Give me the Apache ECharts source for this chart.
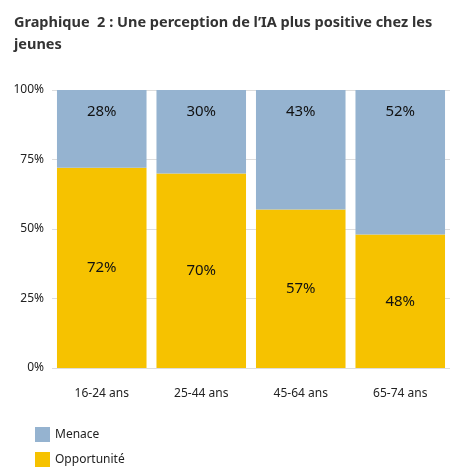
<!DOCTYPE html>
<html>
<head>
<meta charset="UTF-8">
<script src="https://cdn.jsdelivr.net/npm/echarts@6/dist/echarts.min.js"></script>
<style>body{margin:0;background:#fff}</style>
</head>
<body>
<div id="main" style="width:469px;height:476px;"></div>
<script>
var categories = ['16-24 ans', '25-44 ans', '45-64 ans', '65-74 ans'];
var opportunite = [72, 70, 57, 48];
var menace = [28, 30, 43, 52];
var yTicks = [0, 25, 50, 75, 100];

var chart = echarts.init(document.getElementById('main'));
var labelStyle = {show: true, position: 'inside', color: '#111', fontSize: 15,
  fontFamily: 'Noto Sans', formatter: function (p) { return p.value + '%'; }};
chart.setOption({
  textStyle: {fontFamily: 'Noto Sans'},
  title: {
    text: 'Graphique  2 : Une perception de l\u2019IA plus positive chez les\njeunes',
    left: 9, top: 7,
    textStyle: {fontSize: 14.5, fontWeight: 'bold', color: '#333', lineHeight: 22, fontFamily: 'Noto Sans'}
  },
  legend: {
    orient: 'vertical', left: 30, top: 422, itemGap: 10, itemWidth: 15, itemHeight: 15,
    icon: 'rect', data: ['Menace', 'Opportunit\u00e9'],
    textStyle: {fontSize: 12, color: '#222'}
  },
  grid: {left: 52, right: 19, top: 90, bottom: 108},
  xAxis: {
    type: 'category', data: categories,
    axisLine: {show: false}, axisTick: {show: false},
    axisLabel: {color: '#222', fontSize: 12, margin: 20}
  },
  yAxis: {
    type: 'value', min: 0, max: 100, interval: 25,
    axisLabel: {color: '#222', fontSize: 12, formatter: function (v) { return yTicks.indexOf(v) >= 0 ? v + '%' : ''; }},
    splitLine: {lineStyle: {color: '#ddd'}}
  },
  series: [
    {name: 'Opportunit\u00e9', type: 'bar', stack: 'a', data: opportunite, barWidth: '90%',
      itemStyle: {color: '#f6c200'}, label: labelStyle},
    {name: 'Menace', type: 'bar', stack: 'a', data: menace, barWidth: '90%',
      itemStyle: {color: '#95b3d0'}, label: Object.assign({}, labelStyle, {position: 'insideTop', distance: 14})}
  ]
});
</script>
</body>
</html>
